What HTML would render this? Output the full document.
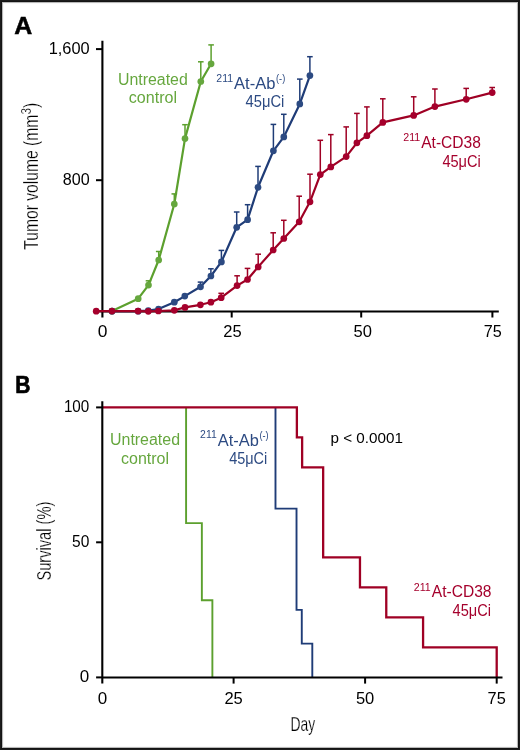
<!DOCTYPE html>
<html><head><meta charset="utf-8"><style>
html,body{margin:0;padding:0;background:#fff;}
body{width:520px;height:750px;overflow:hidden;position:relative;}
svg{position:absolute;left:0;top:0;will-change:transform;}
text{font-family:"Liberation Sans", sans-serif;}
</style></head><body>
<svg width="520" height="750" viewBox="0 0 520 750">
<rect x="0" y="0" width="520" height="750" fill="#1c1c1c"/>
<rect x="1" y="1" width="518" height="748" fill="#141414"/>
<rect x="2" y="2" width="516" height="746" fill="#b8b8b8"/>
<rect x="3" y="3" width="514" height="744" fill="#f8f8f8"/>
<rect x="4" y="4" width="512" height="742" fill="#fff"/>
<text x="14.2" y="34.3" font-size="24.5" font-weight="bold" fill="#000000" stroke="#000000" stroke-width="0.5" textLength="18" lengthAdjust="spacingAndGlyphs">A</text>
<text x="15.2" y="392.6" font-size="24" font-weight="bold" fill="#000000" stroke="#000000" stroke-width="0.7" textLength="15.2" lengthAdjust="spacingAndGlyphs">B</text>
<line x1="102.4" y1="40.8" x2="102.4" y2="317.6" stroke="#000000" stroke-width="2.1" stroke-linecap="butt"/>
<line x1="102.4" y1="311.4" x2="498.8" y2="311.4" stroke="#000000" stroke-width="2.0" stroke-linecap="butt"/>
<line x1="96.0" y1="49.1" x2="102.4" y2="49.1" stroke="#000000" stroke-width="2.0" stroke-linecap="butt"/>
<line x1="96.0" y1="180.2" x2="102.4" y2="180.2" stroke="#000000" stroke-width="2.0" stroke-linecap="butt"/>
<line x1="96.0" y1="311.4" x2="102.4" y2="311.4" stroke="#000000" stroke-width="2.0" stroke-linecap="butt"/>
<line x1="231.7" y1="311.4" x2="231.7" y2="317.5" stroke="#000000" stroke-width="2.0" stroke-linecap="butt"/>
<line x1="361.2" y1="311.4" x2="361.2" y2="317.5" stroke="#000000" stroke-width="2.0" stroke-linecap="butt"/>
<line x1="492.4" y1="311.4" x2="492.4" y2="317.5" stroke="#000000" stroke-width="2.0" stroke-linecap="butt"/>
<text x="89.7" y="53.9" font-size="17" fill="#000000" text-anchor="end" font-weight="normal" textLength="41" lengthAdjust="spacingAndGlyphs">1,600</text>
<text x="89.7" y="185.0" font-size="17" fill="#000000" text-anchor="end" font-weight="normal" textLength="26.9" lengthAdjust="spacingAndGlyphs">800</text>
<text x="102.5" y="337.4" font-size="17.4" fill="#000000" text-anchor="middle" font-weight="normal">0</text>
<text x="232.5" y="337.4" font-size="17.4" fill="#000000" text-anchor="middle" font-weight="normal" textLength="18.4" lengthAdjust="spacingAndGlyphs">25</text>
<text x="362.7" y="337.4" font-size="17.4" fill="#000000" text-anchor="middle" font-weight="normal" textLength="18.4" lengthAdjust="spacingAndGlyphs">50</text>
<text x="492.7" y="337.4" font-size="17.4" fill="#000000" text-anchor="middle" font-weight="normal" textLength="18.0" lengthAdjust="spacingAndGlyphs">75</text>
<text transform="translate(37.9,249.8) rotate(-90)" font-size="20.5" fill="#000000" stroke="#fff" stroke-width="0.25" textLength="147" lengthAdjust="spacingAndGlyphs">Tumor volume (mm<tspan font-size="15.5" dy="-6.8">3</tspan><tspan dy="6.8">)</tspan></text>
<polyline points="112.0,311.1 138.2,298.7 148.5,285.1 158.7,260.0 174.3,204.0 185.0,138.6 200.8,81.5 211.1,63.8" fill="none" stroke="#5ca02e" stroke-width="2.2" stroke-linejoin="round"/>
<line x1="148.5" y1="285.1" x2="148.5" y2="280.8" stroke="#5ca02e" stroke-width="1.5" stroke-linecap="butt"/>
<line x1="145.7" y1="280.8" x2="151.3" y2="280.8" stroke="#5ca02e" stroke-width="1.5" stroke-linecap="butt"/>
<line x1="158.7" y1="260.0" x2="158.7" y2="251.5" stroke="#5ca02e" stroke-width="1.5" stroke-linecap="butt"/>
<line x1="155.89999999999998" y1="251.5" x2="161.5" y2="251.5" stroke="#5ca02e" stroke-width="1.5" stroke-linecap="butt"/>
<line x1="174.3" y1="204.0" x2="174.3" y2="193.9" stroke="#5ca02e" stroke-width="1.5" stroke-linecap="butt"/>
<line x1="171.5" y1="193.9" x2="177.10000000000002" y2="193.9" stroke="#5ca02e" stroke-width="1.5" stroke-linecap="butt"/>
<line x1="185.0" y1="138.6" x2="185.0" y2="124.7" stroke="#5ca02e" stroke-width="1.5" stroke-linecap="butt"/>
<line x1="182.2" y1="124.7" x2="187.8" y2="124.7" stroke="#5ca02e" stroke-width="1.5" stroke-linecap="butt"/>
<line x1="200.8" y1="81.5" x2="200.8" y2="61.8" stroke="#5ca02e" stroke-width="1.5" stroke-linecap="butt"/>
<line x1="198.0" y1="61.8" x2="203.60000000000002" y2="61.8" stroke="#5ca02e" stroke-width="1.5" stroke-linecap="butt"/>
<line x1="211.1" y1="63.8" x2="211.1" y2="44.9" stroke="#5ca02e" stroke-width="1.5" stroke-linecap="butt"/>
<line x1="208.29999999999998" y1="44.9" x2="213.9" y2="44.9" stroke="#5ca02e" stroke-width="1.5" stroke-linecap="butt"/>
<circle cx="112.0" cy="311.1" r="3.35" fill="#66a73e"/>
<circle cx="138.2" cy="298.7" r="3.35" fill="#66a73e"/>
<circle cx="148.5" cy="285.1" r="3.35" fill="#66a73e"/>
<circle cx="158.7" cy="260.0" r="3.35" fill="#66a73e"/>
<circle cx="174.3" cy="204.0" r="3.35" fill="#66a73e"/>
<circle cx="185.0" cy="138.6" r="3.35" fill="#66a73e"/>
<circle cx="200.8" cy="81.5" r="3.35" fill="#66a73e"/>
<circle cx="211.1" cy="63.8" r="3.35" fill="#66a73e"/>
<polyline points="112.0,311.15 138.2,311.15 148.3,310.5 158.5,309.0 174.3,302.2 184.8,296.1 200.5,286.8 210.9,276.0 221.4,261.9 236.7,227.3 247.6,219.7 258.0,187.3 273.4,150.8 283.8,136.9 299.8,103.9 309.9,75.6" fill="none" stroke="#1f3c77" stroke-width="2.2" stroke-linejoin="round"/>
<line x1="200.5" y1="286.8" x2="200.5" y2="282.1" stroke="#1f3c77" stroke-width="1.5" stroke-linecap="butt"/>
<line x1="197.7" y1="282.1" x2="203.3" y2="282.1" stroke="#1f3c77" stroke-width="1.5" stroke-linecap="butt"/>
<line x1="210.9" y1="276.0" x2="210.9" y2="268.8" stroke="#1f3c77" stroke-width="1.5" stroke-linecap="butt"/>
<line x1="208.1" y1="268.8" x2="213.70000000000002" y2="268.8" stroke="#1f3c77" stroke-width="1.5" stroke-linecap="butt"/>
<line x1="221.4" y1="261.9" x2="221.4" y2="250.4" stroke="#1f3c77" stroke-width="1.5" stroke-linecap="butt"/>
<line x1="218.6" y1="250.4" x2="224.20000000000002" y2="250.4" stroke="#1f3c77" stroke-width="1.5" stroke-linecap="butt"/>
<line x1="236.7" y1="227.3" x2="236.7" y2="212.0" stroke="#1f3c77" stroke-width="1.5" stroke-linecap="butt"/>
<line x1="233.89999999999998" y1="212.0" x2="239.5" y2="212.0" stroke="#1f3c77" stroke-width="1.5" stroke-linecap="butt"/>
<line x1="247.6" y1="219.7" x2="247.6" y2="204.7" stroke="#1f3c77" stroke-width="1.5" stroke-linecap="butt"/>
<line x1="244.79999999999998" y1="204.7" x2="250.4" y2="204.7" stroke="#1f3c77" stroke-width="1.5" stroke-linecap="butt"/>
<line x1="258.0" y1="187.3" x2="258.0" y2="166.4" stroke="#1f3c77" stroke-width="1.5" stroke-linecap="butt"/>
<line x1="255.2" y1="166.4" x2="260.8" y2="166.4" stroke="#1f3c77" stroke-width="1.5" stroke-linecap="butt"/>
<line x1="273.4" y1="150.8" x2="273.4" y2="124.4" stroke="#1f3c77" stroke-width="1.5" stroke-linecap="butt"/>
<line x1="270.59999999999997" y1="124.4" x2="276.2" y2="124.4" stroke="#1f3c77" stroke-width="1.5" stroke-linecap="butt"/>
<line x1="283.8" y1="136.9" x2="283.8" y2="114.3" stroke="#1f3c77" stroke-width="1.5" stroke-linecap="butt"/>
<line x1="281.0" y1="114.3" x2="286.6" y2="114.3" stroke="#1f3c77" stroke-width="1.5" stroke-linecap="butt"/>
<line x1="299.8" y1="103.9" x2="299.8" y2="79.1" stroke="#1f3c77" stroke-width="1.5" stroke-linecap="butt"/>
<line x1="297.0" y1="79.1" x2="302.6" y2="79.1" stroke="#1f3c77" stroke-width="1.5" stroke-linecap="butt"/>
<line x1="309.9" y1="75.6" x2="309.9" y2="56.7" stroke="#1f3c77" stroke-width="1.5" stroke-linecap="butt"/>
<line x1="307.09999999999997" y1="56.7" x2="312.7" y2="56.7" stroke="#1f3c77" stroke-width="1.5" stroke-linecap="butt"/>
<circle cx="112.0" cy="311.15" r="3.35" fill="#2c4a82"/>
<circle cx="138.2" cy="311.15" r="3.35" fill="#2c4a82"/>
<circle cx="148.3" cy="310.5" r="3.35" fill="#2c4a82"/>
<circle cx="158.5" cy="309.0" r="3.35" fill="#2c4a82"/>
<circle cx="174.3" cy="302.2" r="3.35" fill="#2c4a82"/>
<circle cx="184.8" cy="296.1" r="3.35" fill="#2c4a82"/>
<circle cx="200.5" cy="286.8" r="3.35" fill="#2c4a82"/>
<circle cx="210.9" cy="276.0" r="3.35" fill="#2c4a82"/>
<circle cx="221.4" cy="261.9" r="3.35" fill="#2c4a82"/>
<circle cx="236.7" cy="227.3" r="3.35" fill="#2c4a82"/>
<circle cx="247.6" cy="219.7" r="3.35" fill="#2c4a82"/>
<circle cx="258.0" cy="187.3" r="3.35" fill="#2c4a82"/>
<circle cx="273.4" cy="150.8" r="3.35" fill="#2c4a82"/>
<circle cx="283.8" cy="136.9" r="3.35" fill="#2c4a82"/>
<circle cx="299.8" cy="103.9" r="3.35" fill="#2c4a82"/>
<circle cx="309.9" cy="75.6" r="3.35" fill="#2c4a82"/>
<polyline points="96.2,311.2 112.0,311.1 138.0,311.1 148.3,311.3 158.4,311.0 174.3,310.3 185.0,307.4 200.4,304.8 210.9,302.2 221.2,297.7 237.1,285.6 247.5,279.5 258.2,266.9 273.2,250.0 283.8,238.5 299.2,221.8 310.0,201.8 320.3,174.6 330.8,166.9 346.2,156.6 356.9,142.8 366.9,135.7 382.8,122.4 413.7,115.4 434.9,106.6 466.2,99.3 492.2,92.6" fill="none" stroke="#9f0024" stroke-width="2.2" stroke-linejoin="round"/>
<line x1="221.2" y1="297.7" x2="221.2" y2="293.3" stroke="#9f0024" stroke-width="1.5" stroke-linecap="butt"/>
<line x1="218.39999999999998" y1="293.3" x2="224.0" y2="293.3" stroke="#9f0024" stroke-width="1.5" stroke-linecap="butt"/>
<line x1="237.1" y1="285.6" x2="237.1" y2="275.8" stroke="#9f0024" stroke-width="1.5" stroke-linecap="butt"/>
<line x1="234.29999999999998" y1="275.8" x2="239.9" y2="275.8" stroke="#9f0024" stroke-width="1.5" stroke-linecap="butt"/>
<line x1="247.5" y1="279.5" x2="247.5" y2="268.4" stroke="#9f0024" stroke-width="1.5" stroke-linecap="butt"/>
<line x1="244.7" y1="268.4" x2="250.3" y2="268.4" stroke="#9f0024" stroke-width="1.5" stroke-linecap="butt"/>
<line x1="258.2" y1="266.9" x2="258.2" y2="254.2" stroke="#9f0024" stroke-width="1.5" stroke-linecap="butt"/>
<line x1="255.39999999999998" y1="254.2" x2="261.0" y2="254.2" stroke="#9f0024" stroke-width="1.5" stroke-linecap="butt"/>
<line x1="273.2" y1="250.0" x2="273.2" y2="232.8" stroke="#9f0024" stroke-width="1.5" stroke-linecap="butt"/>
<line x1="270.4" y1="232.8" x2="276.0" y2="232.8" stroke="#9f0024" stroke-width="1.5" stroke-linecap="butt"/>
<line x1="283.8" y1="238.5" x2="283.8" y2="220.3" stroke="#9f0024" stroke-width="1.5" stroke-linecap="butt"/>
<line x1="281.0" y1="220.3" x2="286.6" y2="220.3" stroke="#9f0024" stroke-width="1.5" stroke-linecap="butt"/>
<line x1="299.2" y1="221.8" x2="299.2" y2="196.2" stroke="#9f0024" stroke-width="1.5" stroke-linecap="butt"/>
<line x1="296.4" y1="196.2" x2="302.0" y2="196.2" stroke="#9f0024" stroke-width="1.5" stroke-linecap="butt"/>
<line x1="310.0" y1="201.8" x2="310.0" y2="174.2" stroke="#9f0024" stroke-width="1.5" stroke-linecap="butt"/>
<line x1="307.2" y1="174.2" x2="312.8" y2="174.2" stroke="#9f0024" stroke-width="1.5" stroke-linecap="butt"/>
<line x1="320.3" y1="174.6" x2="320.3" y2="140.3" stroke="#9f0024" stroke-width="1.5" stroke-linecap="butt"/>
<line x1="317.5" y1="140.3" x2="323.1" y2="140.3" stroke="#9f0024" stroke-width="1.5" stroke-linecap="butt"/>
<line x1="330.8" y1="166.9" x2="330.8" y2="134.6" stroke="#9f0024" stroke-width="1.5" stroke-linecap="butt"/>
<line x1="328.0" y1="134.6" x2="333.6" y2="134.6" stroke="#9f0024" stroke-width="1.5" stroke-linecap="butt"/>
<line x1="346.2" y1="156.6" x2="346.2" y2="126.9" stroke="#9f0024" stroke-width="1.5" stroke-linecap="butt"/>
<line x1="343.4" y1="126.9" x2="349.0" y2="126.9" stroke="#9f0024" stroke-width="1.5" stroke-linecap="butt"/>
<line x1="356.9" y1="142.8" x2="356.9" y2="113.4" stroke="#9f0024" stroke-width="1.5" stroke-linecap="butt"/>
<line x1="354.09999999999997" y1="113.4" x2="359.7" y2="113.4" stroke="#9f0024" stroke-width="1.5" stroke-linecap="butt"/>
<line x1="366.9" y1="135.7" x2="366.9" y2="106.9" stroke="#9f0024" stroke-width="1.5" stroke-linecap="butt"/>
<line x1="364.09999999999997" y1="106.9" x2="369.7" y2="106.9" stroke="#9f0024" stroke-width="1.5" stroke-linecap="butt"/>
<line x1="382.8" y1="122.4" x2="382.8" y2="98.8" stroke="#9f0024" stroke-width="1.5" stroke-linecap="butt"/>
<line x1="380.0" y1="98.8" x2="385.6" y2="98.8" stroke="#9f0024" stroke-width="1.5" stroke-linecap="butt"/>
<line x1="413.7" y1="115.4" x2="413.7" y2="96.8" stroke="#9f0024" stroke-width="1.5" stroke-linecap="butt"/>
<line x1="410.9" y1="96.8" x2="416.5" y2="96.8" stroke="#9f0024" stroke-width="1.5" stroke-linecap="butt"/>
<line x1="434.9" y1="106.6" x2="434.9" y2="89.0" stroke="#9f0024" stroke-width="1.5" stroke-linecap="butt"/>
<line x1="432.09999999999997" y1="89.0" x2="437.7" y2="89.0" stroke="#9f0024" stroke-width="1.5" stroke-linecap="butt"/>
<line x1="466.2" y1="99.3" x2="466.2" y2="88.4" stroke="#9f0024" stroke-width="1.5" stroke-linecap="butt"/>
<line x1="463.4" y1="88.4" x2="469.0" y2="88.4" stroke="#9f0024" stroke-width="1.5" stroke-linecap="butt"/>
<line x1="492.2" y1="92.6" x2="492.2" y2="87.5" stroke="#9f0024" stroke-width="1.5" stroke-linecap="butt"/>
<line x1="489.4" y1="87.5" x2="495.0" y2="87.5" stroke="#9f0024" stroke-width="1.5" stroke-linecap="butt"/>
<circle cx="96.2" cy="311.2" r="3.35" fill="#a5002c"/>
<circle cx="112.0" cy="311.1" r="3.35" fill="#a5002c"/>
<circle cx="138.0" cy="311.1" r="3.35" fill="#a5002c"/>
<circle cx="148.3" cy="311.3" r="3.35" fill="#a5002c"/>
<circle cx="158.4" cy="311.0" r="3.35" fill="#a5002c"/>
<circle cx="174.3" cy="310.3" r="3.35" fill="#a5002c"/>
<circle cx="185.0" cy="307.4" r="3.35" fill="#a5002c"/>
<circle cx="200.4" cy="304.8" r="3.35" fill="#a5002c"/>
<circle cx="210.9" cy="302.2" r="3.35" fill="#a5002c"/>
<circle cx="221.2" cy="297.7" r="3.35" fill="#a5002c"/>
<circle cx="237.1" cy="285.6" r="3.35" fill="#a5002c"/>
<circle cx="247.5" cy="279.5" r="3.35" fill="#a5002c"/>
<circle cx="258.2" cy="266.9" r="3.35" fill="#a5002c"/>
<circle cx="273.2" cy="250.0" r="3.35" fill="#a5002c"/>
<circle cx="283.8" cy="238.5" r="3.35" fill="#a5002c"/>
<circle cx="299.2" cy="221.8" r="3.35" fill="#a5002c"/>
<circle cx="310.0" cy="201.8" r="3.35" fill="#a5002c"/>
<circle cx="320.3" cy="174.6" r="3.35" fill="#a5002c"/>
<circle cx="330.8" cy="166.9" r="3.35" fill="#a5002c"/>
<circle cx="346.2" cy="156.6" r="3.35" fill="#a5002c"/>
<circle cx="356.9" cy="142.8" r="3.35" fill="#a5002c"/>
<circle cx="366.9" cy="135.7" r="3.35" fill="#a5002c"/>
<circle cx="382.8" cy="122.4" r="3.35" fill="#a5002c"/>
<circle cx="413.7" cy="115.4" r="3.35" fill="#a5002c"/>
<circle cx="434.9" cy="106.6" r="3.35" fill="#a5002c"/>
<circle cx="466.2" cy="99.3" r="3.35" fill="#a5002c"/>
<circle cx="492.2" cy="92.6" r="3.35" fill="#a5002c"/>
<text x="152.9" y="84.9" font-size="16" fill="#66a73e" text-anchor="middle" font-weight="normal" textLength="69.8" lengthAdjust="spacingAndGlyphs">Untreated</text>
<text x="152.9" y="103.1" font-size="16" fill="#66a73e" text-anchor="middle" font-weight="normal" textLength="48.2" lengthAdjust="spacingAndGlyphs">control</text>
<text x="216.3" y="82.0" font-size="10.4" fill="#2c4a82" text-anchor="start" font-weight="normal" textLength="16.8" lengthAdjust="spacingAndGlyphs">211</text>
<text x="234.0" y="88.5" font-size="16" fill="#2c4a82" text-anchor="start" font-weight="normal" textLength="41.4" lengthAdjust="spacingAndGlyphs">At-Ab</text>
<text x="276.0" y="82.0" font-size="10" fill="#2c4a82" text-anchor="start" font-weight="normal" textLength="9.2" lengthAdjust="spacingAndGlyphs">(-)</text>
<text x="284.3" y="107.2" font-size="16" fill="#2c4a82" text-anchor="end" font-weight="normal" textLength="38.8" lengthAdjust="spacingAndGlyphs">45μCi</text>
<text x="403.3" y="141.0" font-size="10.6" fill="#a5002c" text-anchor="start" font-weight="normal" textLength="17.0" lengthAdjust="spacingAndGlyphs">211</text>
<text x="421.2" y="147.6" font-size="16" fill="#a5002c" text-anchor="start" font-weight="normal" textLength="59.7" lengthAdjust="spacingAndGlyphs">At-CD38</text>
<text x="480.8" y="166.8" font-size="16" fill="#a5002c" text-anchor="end" font-weight="normal" textLength="38.4" lengthAdjust="spacingAndGlyphs">45μCi</text>
<path d="M186.09,407.40 H186.09 V523.11 H201.86 V600.26 H212.38 V677.40" fill="none" stroke="#5ca02e" stroke-width="1.9" stroke-linejoin="miter"/>
<path d="M275.49,407.40 H275.49 V508.65 H296.52 V609.90 H301.78 V643.65 H312.30 V677.40" fill="none" stroke="#1f3c77" stroke-width="1.9" stroke-linejoin="miter"/>
<path d="M102.30,407.40 H296.87 V437.40 H302.13 V467.40 H323.16 V557.40 H359.97 V587.40 H386.27 V617.40 H423.08 V647.40 H496.70 V677.40" fill="none" stroke="#9f0024" stroke-width="2.3" stroke-linejoin="miter"/>
<line x1="102.3" y1="401.3" x2="102.3" y2="683.5" stroke="#000000" stroke-width="2.1" stroke-linecap="butt"/>
<line x1="102.3" y1="677.4" x2="502.5" y2="677.4" stroke="#000000" stroke-width="2.0" stroke-linecap="butt"/>
<line x1="96.1" y1="407.4" x2="102.3" y2="407.4" stroke="#000000" stroke-width="2.0" stroke-linecap="butt"/>
<line x1="96.1" y1="542.3" x2="102.3" y2="542.3" stroke="#000000" stroke-width="2.0" stroke-linecap="butt"/>
<line x1="96.1" y1="677.4" x2="102.3" y2="677.4" stroke="#000000" stroke-width="2.0" stroke-linecap="butt"/>
<line x1="233.6" y1="677.4" x2="233.6" y2="683.6" stroke="#000000" stroke-width="2.0" stroke-linecap="butt"/>
<line x1="365.1" y1="677.4" x2="365.1" y2="683.6" stroke="#000000" stroke-width="2.0" stroke-linecap="butt"/>
<line x1="496.7" y1="677.4" x2="496.7" y2="683.6" stroke="#000000" stroke-width="2.0" stroke-linecap="butt"/>
<text x="89.3" y="412.4" font-size="17" fill="#000000" text-anchor="end" font-weight="normal" textLength="25.4" lengthAdjust="spacingAndGlyphs">100</text>
<text x="89.3" y="547.3" font-size="17" fill="#000000" text-anchor="end" font-weight="normal" textLength="17.3" lengthAdjust="spacingAndGlyphs">50</text>
<text x="89.3" y="682.2" font-size="17" fill="#000000" text-anchor="end" font-weight="normal">0</text>
<text x="102.5" y="703.5" font-size="17" fill="#000000" text-anchor="middle" font-weight="normal">0</text>
<text x="233.6" y="703.5" font-size="17" fill="#000000" text-anchor="middle" font-weight="normal" textLength="18.4" lengthAdjust="spacingAndGlyphs">25</text>
<text x="365.1" y="703.5" font-size="17" fill="#000000" text-anchor="middle" font-weight="normal" textLength="18.4" lengthAdjust="spacingAndGlyphs">50</text>
<text x="496.7" y="703.5" font-size="17" fill="#000000" text-anchor="middle" font-weight="normal" textLength="18.2" lengthAdjust="spacingAndGlyphs">75</text>
<text x="302.8" y="730.9" font-size="20.5" fill="#000000" text-anchor="middle" font-weight="normal" textLength="24.7" lengthAdjust="spacingAndGlyphs" stroke="#fff" stroke-width="0.25">Day</text>
<text transform="translate(51.3,580.6) rotate(-90)" font-size="20.5" fill="#000000" stroke="#fff" stroke-width="0.25" textLength="79" lengthAdjust="spacingAndGlyphs">Survival (%)</text>
<text x="145.0" y="445.2" font-size="16" fill="#66a73e" text-anchor="middle" font-weight="normal" textLength="70.0" lengthAdjust="spacingAndGlyphs">Untreated</text>
<text x="145.0" y="463.6" font-size="16" fill="#66a73e" text-anchor="middle" font-weight="normal" textLength="48.0" lengthAdjust="spacingAndGlyphs">control</text>
<text x="200.1" y="438.3" font-size="10.2" fill="#2c4a82" text-anchor="start" font-weight="normal" textLength="16.6" lengthAdjust="spacingAndGlyphs">211</text>
<text x="217.8" y="445.5" font-size="16" fill="#2c4a82" text-anchor="start" font-weight="normal" textLength="41.0" lengthAdjust="spacingAndGlyphs">At-Ab</text>
<text x="259.4" y="439.4" font-size="10" fill="#2c4a82" text-anchor="start" font-weight="normal" textLength="9.2" lengthAdjust="spacingAndGlyphs">(-)</text>
<text x="267.3" y="463.5" font-size="16" fill="#2c4a82" text-anchor="end" font-weight="normal" textLength="38.1" lengthAdjust="spacingAndGlyphs">45μCi</text>
<text x="330.5" y="443.2" font-size="14.6" fill="#000000" text-anchor="start" font-weight="normal" textLength="72.4" lengthAdjust="spacingAndGlyphs">p &lt; 0.0001</text>
<text x="413.8" y="590.6" font-size="10.5" fill="#a5002c" text-anchor="start" font-weight="normal" textLength="17.0" lengthAdjust="spacingAndGlyphs">211</text>
<text x="431.8" y="597.3" font-size="16" fill="#a5002c" text-anchor="start" font-weight="normal" textLength="59.7" lengthAdjust="spacingAndGlyphs">At-CD38</text>
<text x="491.0" y="615.5" font-size="16" fill="#a5002c" text-anchor="end" font-weight="normal" textLength="38.4" lengthAdjust="spacingAndGlyphs">45μCi</text>
</svg>
</body></html>
